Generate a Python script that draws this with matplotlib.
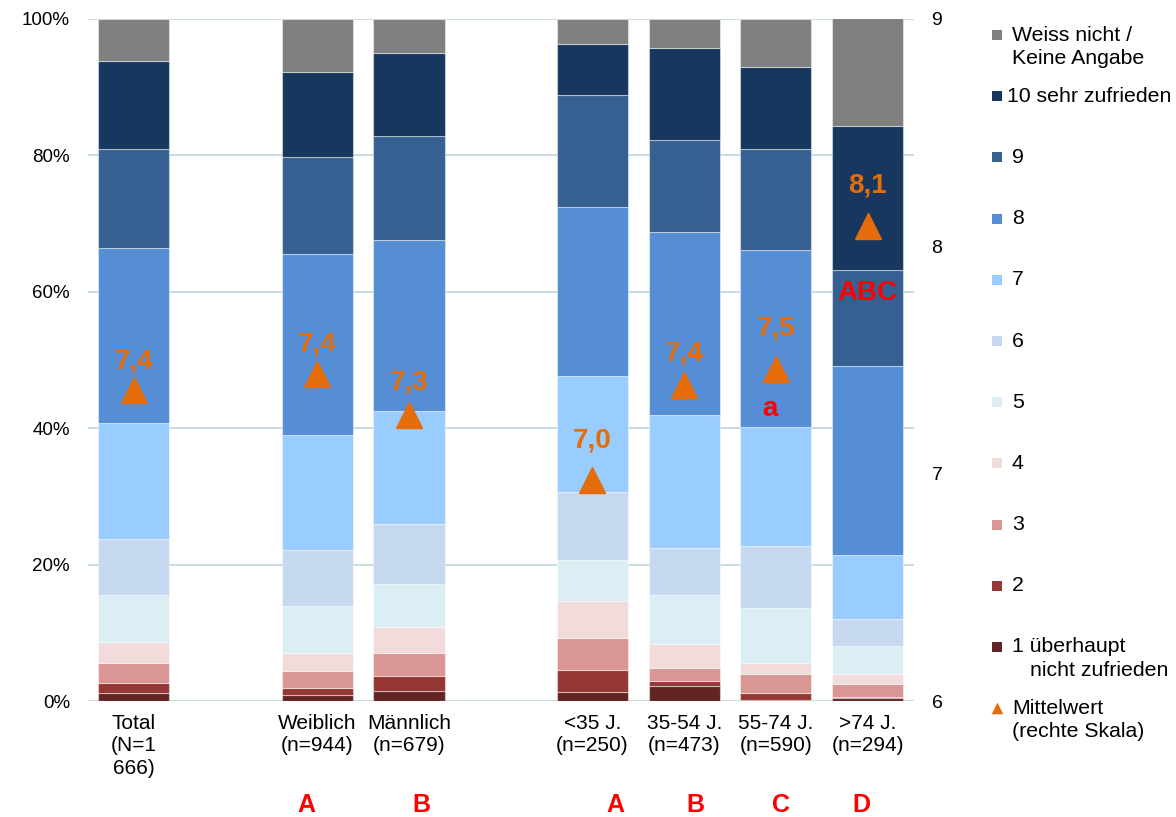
import matplotlib.pyplot as plt

plt.rcParams['font.family'] = ['Liberation Sans', 'DejaVu Sans']

groups = ["Total\n(N=1\n666)", "Weiblich\n(n=944)", "Männlich\n(n=679)",
          "<35 J.\n(n=250)", "35-54 J.\n(n=473)", "55-74 J.\n(n=590)", ">74 J.\n(n=294)"]

# Anteile in %, von unten (1) nach oben (Weiss nicht)
s1 = [1.2, 0.9, 1.5, 1.3, 2.2, 0.2, 0.5]
s2 = [1.5, 1.0, 2.1, 3.2, 0.7, 1.0, 0.1]
s3 = [2.9, 2.5, 3.5, 4.8, 1.9, 2.8, 1.9]
s4 = [3.1, 2.6, 3.8, 5.4, 3.5, 1.6, 1.5]
s5 = [6.9, 7.0, 6.3, 6.0, 7.2, 8.1, 4.0]
s6 = [8.2, 8.1, 8.7, 10.0, 7.0, 9.1, 4.0]
s7 = [16.9, 16.9, 16.6, 16.9, 19.5, 17.4, 9.4]
s8 = [25.7, 26.5, 25.1, 24.8, 26.7, 26.0, 27.7]
s9 = [14.5, 14.2, 15.2, 16.4, 13.5, 14.8, 14.1]
s10 = [12.9, 12.6, 12.2, 7.6, 13.5, 11.9, 21.1]
wn = [6.2, 7.7, 5.0, 3.6, 4.3, 7.1, 15.8]

means = [7.37, 7.44, 7.26, 6.97, 7.39, 7.46, 8.09]

series_labels = ["1 überhaupt\nnicht zufrieden", "2", "3", "4", "5", "6", "7", "8", "9",
                 "10 sehr zufrieden", "Weiss nicht /\nKeine Angabe"]
colors = ["#632523", "#953735", "#D99694", "#F2DCDB", "#DBEEF4", "#C6D9F1",
          "#99CCFF", "#558ED5", "#366092", "#17375E", "#808080"]
orange = "#E46C0A"

xpos = [0, 2, 3, 5, 6, 7, 8]

fig = plt.figure(figsize=(11.76, 8.17), dpi=100)
ax = fig.add_axes([88 / 1176, 1 - 701 / 817, 825.5 / 1176, 682 / 817])

bottom = [0.0] * len(xpos)
for vals, col in zip([s1, s2, s3, s4, s5, s6, s7, s8, s9, s10, wn], colors):
    ax.bar(xpos, vals, width=0.775, bottom=bottom, color=col,
           edgecolor=(1, 1, 1, 0.45), linewidth=0.8, zorder=2)
    bottom = [b + v for b, v in zip(bottom, vals)]

ax.set_xlim(-0.5, 8.5)
ax.set_ylim(0, 100)
ax.set_yticks([0, 20, 40, 60, 80, 100])
ax.set_yticklabels([f"{t}%" for t in range(0, 101, 20)])
ax.set_xticks(xpos)
ax.set_xticklabels(groups, linespacing=1.22)
ax.tick_params(axis='y', length=0, pad=13, labelsize=13.5)
ax.tick_params(axis='x', length=0, pad=9.5, labelsize=15)
ax.grid(axis='y', color='#C5D9E0', linewidth=1.3, zorder=0)
for sp in ax.spines.values():
    sp.set_visible(False)

ax2 = ax.twinx()
ax2.set_ylim(6, 9)
ax2.set_yticks([6, 7, 8, 9])
ax2.tick_params(axis='y', length=0, pad=13, labelsize=14)
for sp in ax2.spines.values():
    sp.set_visible(False)
ax2.plot(xpos, means, linestyle='none', marker='^', markersize=19,
         color=orange, zorder=5)

lbl_dy = [20, 21, 23, 29, 23, 29, 29]
for x, m, dy in zip(xpos, means, lbl_dy):
    ax2.annotate(f"{m:.1f}".replace('.', ','), (x, m), xytext=(0, dy),
                 textcoords='offset points', ha='center', va='center',
                 color=orange, fontsize=20, fontweight='bold')

# Signifikanz-Kennzeichnungen
red = "#FF0000"
sig_x = [1.88, 3.135, 5.25, 6.12, 7.06, 7.93]
sig_txt = ["A", "B", "A", "B", "C", "D"]
for x, t in zip(sig_x, sig_txt):
    ax.text(x, -15.3, t, ha='center', va='center', color=red,
            fontsize=18, fontweight='bold', clip_on=False)
ax.text(8, 59.8, "ABC", ha='center', va='center', color=red,
        fontsize=20, fontweight='bold')
ax.text(6.94, 42.8, "a", ha='center', va='center', color=red,
        fontsize=20, fontweight='bold')

# Legende rechts
lax = fig.add_axes([0, 0, 1, 1])
lax.set_xlim(0, 1176)
lax.set_ylim(817, 0)
lax.axis('off')
lax.patch.set_alpha(0)
entries = list(zip(series_labels, colors))[::-1]
for i, (lab, col) in enumerate(entries):
    yc = 35 + i * 61.2
    lax.scatter([996.5], [yc], marker='s', s=62, color=col, linewidths=0)
    lines = lab.split("\n")
    x1 = 1007 if lab.startswith("10 ") else 1012
    lax.text(x1, yc, lines[0], ha='left', va='center', fontsize=15.3)
    if len(lines) > 1:
        x2 = 1030 if lab.startswith("1 ") else 1012
        lax.text(x2, yc + 23.5, lines[1], ha='left', va='center', fontsize=15.3)
yc = 35 + len(entries) * 61.2
lax.scatter([996.5], [yc], marker='^', s=70, color=orange, linewidths=0)
lax.text(1012, yc, "Mittelwert", ha='left', va='center', fontsize=15.3)
lax.text(1012, yc + 23.5, "(rechte Skala)", ha='left', va='center', fontsize=15.3)

fig.savefig('out.png', dpi=100)
